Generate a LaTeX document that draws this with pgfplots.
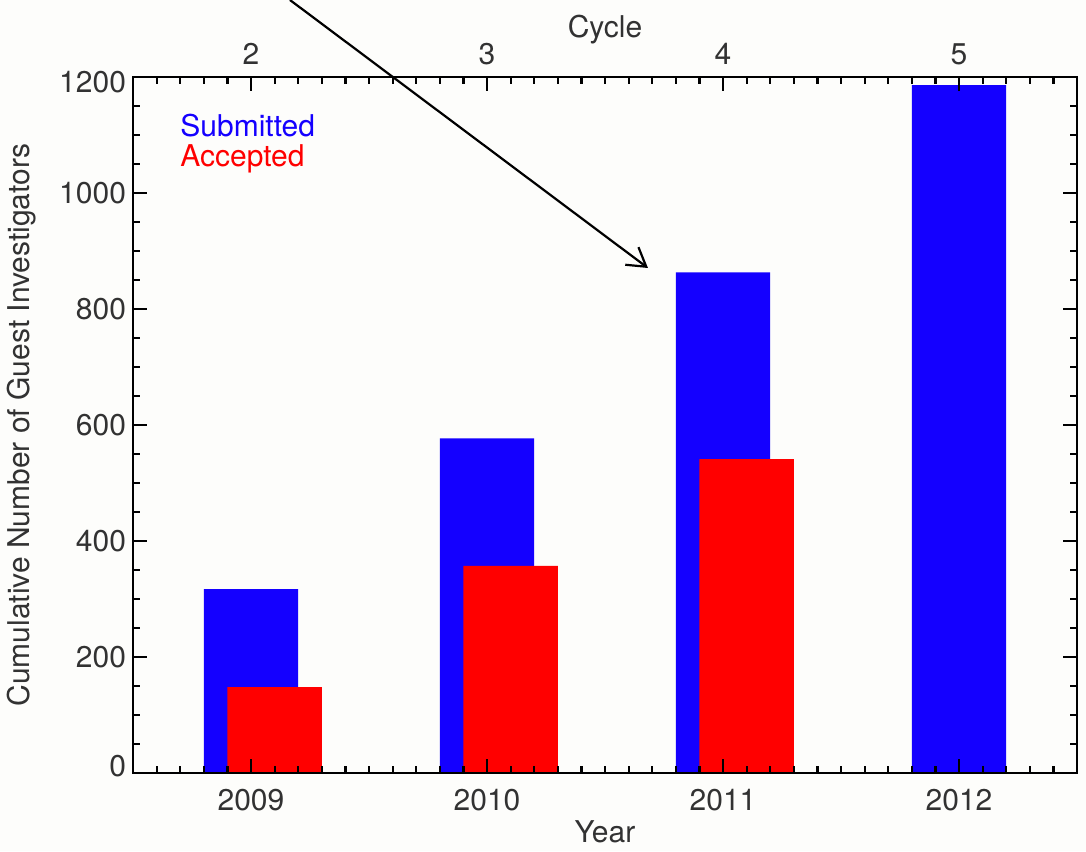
\documentclass[border=0pt]{standalone}
\usepackage{pgfplots}
\pgfplotsset{compat=1.18}
\usepackage{fontspec}
\setmainfont{TeX Gyre Heros}
\usetikzlibrary{arrows.meta}
\definecolor{bgc}{RGB}{253,253,251}
\definecolor{subblue}{RGB}{20,0,255}
\definecolor{accred}{RGB}{255,0,0}
\definecolor{txt}{RGB}{50,50,50}
\pgfplotsset{
  frameaxis/.style={
    at={(0,0)}, anchor=south west,
    scale only axis, width=472pt, height=348pt,
    xmin=-0.5, xmax=3.5, ymin=0, ymax=1200,
  }
}
\begin{document}
\begin{tikzpicture}[font=\fontsize{15}{18}\selectfont]
\fill[bgc] (-66.5pt,-39pt) rectangle (476.5pt,386.5pt);
% data axis with labels
\begin{axis}[
  frameaxis,
  xtick={0,1,2,3},
  xticklabels={2009,2010,2011,2012},
  ytick={0,200,400,600,800,1000,1200},
  yticklabels={\raisebox{3.5pt}[\height][\depth]{0},200,400,600,800,1000,\raisebox{-2.5pt}[\height][\depth]{1200}},
  major tick length=0pt, minor tick num=0,
  axis line style={draw=none},
  /pgf/number format/assume math mode=true,
  ticklabel style={text=txt},
  xticklabel style={anchor=center, yshift=-13.5pt},
  xlabel={Year},
  ylabel={Cumulative Number of Guest Investigators},
  xlabel style={at={(axis description cs:0.5,-0.0848)}, anchor=center, text=txt},
  ylabel style={at={(axis description cs:-0.1176,0.5)}, anchor=center, text=txt},
  clip=false,
]
\addplot[ybar, bar width=0.4, bar shift=0, fill=subblue, draw=none]
  coordinates {(0,317) (1,577) (2,863) (3,1186)};
\addplot[ybar, bar width=0.4, bar shift=0.1, fill=accred, draw=none]
  coordinates {(0,148) (1,357) (2,541)};
\node[anchor=west, text=subblue, inner sep=0pt] at (axis description cs:0.0498,0.9296) {Submitted};
\node[anchor=west, text=accred, inner sep=0pt] at (axis description cs:0.0498,0.8830) {Accepted};
\draw[-{Straight Barb[length=9pt,width=11pt]}, line width=1.1pt, black]
  (axis cs:0.165,1332.8) -- (axis cs:1.682,870.7);
\node[text=txt] at (axis description cs:0.5,1) [yshift=23.5pt] {Cycle};
\end{axis}
% top cycle labels
\begin{axis}[
  frameaxis,
  hide y axis,
  axis x line*=top,
  x axis line style={draw=none},
  xtick={0,1,2,3},
  xticklabels={2,3,4,5},
  major tick length=0pt, minor tick num=0,
  /pgf/number format/assume math mode=true,
  xticklabel style={anchor=center, yshift=11.5pt, text=txt},
]
\end{axis}
% frame and ticks drawn over the bars
\begin{axis}[
  frameaxis,
  xtick={0,1,2,3},
  minor xtick={-0.4,-0.3,-0.2,-0.1,0.1,0.2,0.3,0.4,0.5,0.6,0.7,0.8,0.9,1.1,1.2,1.3,1.4,1.5,1.6,1.7,1.8,1.9,2.1,2.2,2.3,2.4,2.5,2.6,2.7,2.8,2.9,3.1,3.2,3.3,3.4},
  ytick={0,200,400,600,800,1000,1200},
  minor ytick={50,100,150,250,300,350,450,500,550,650,700,750,850,900,950,1050,1100,1150},
  xticklabels={}, yticklabels={},
  xtick pos=both, ytick pos=both,
  tick align=inside,
  major tick length=7pt, minor tick length=3.5pt,
  every tick/.style={line width=1.1pt, black},
  axis line style={line width=1.2pt, black},
]
\end{axis}
\pgfresetboundingbox
\path[use as bounding box] (-66.5pt,-39pt) rectangle (476.5pt,386.5pt);
\end{tikzpicture}
\end{document}
